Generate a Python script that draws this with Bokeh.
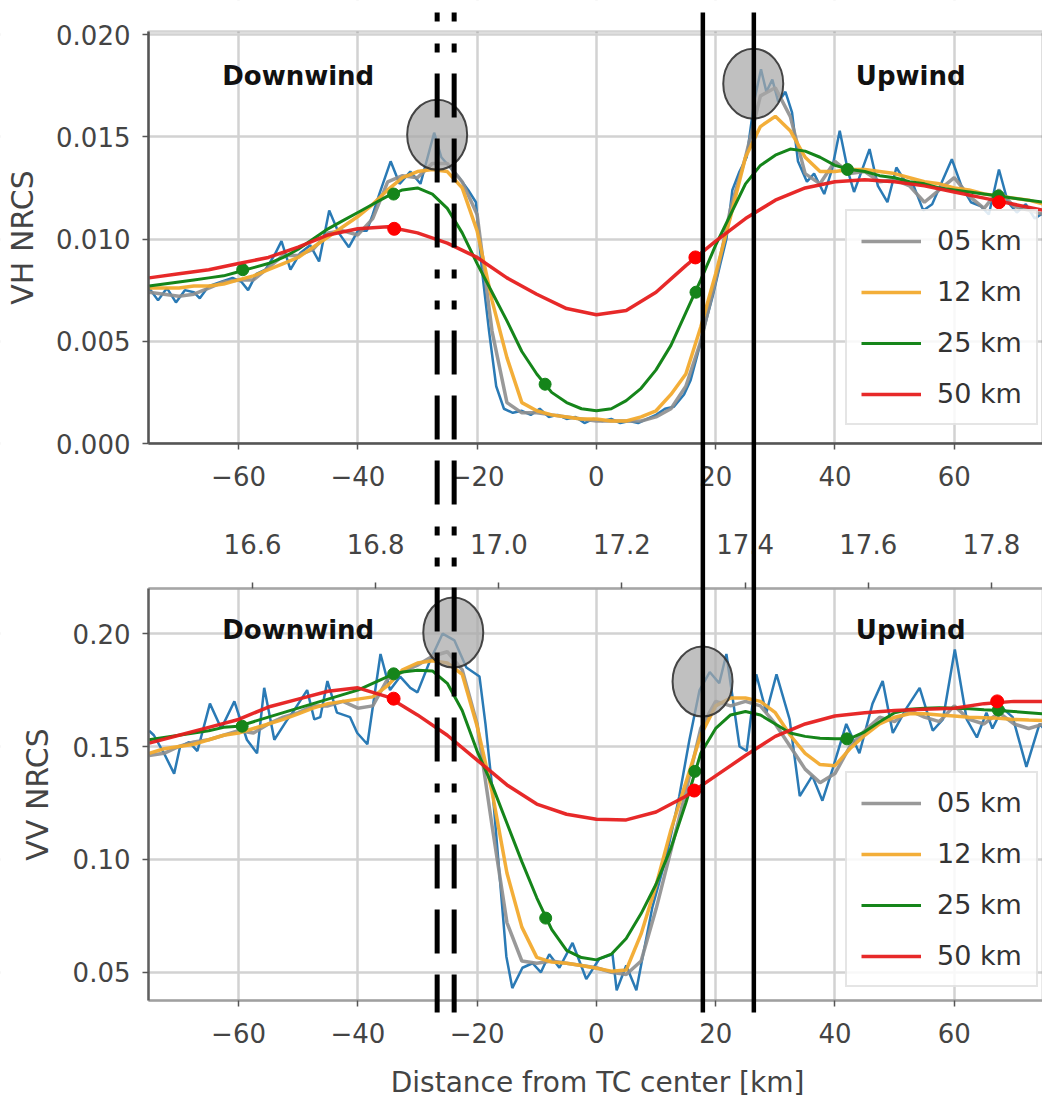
import numpy as np
from math import pi
from bokeh.plotting import figure
from bokeh.models import (Range1d, LinearAxis, FixedTicker, NumeralTickFormatter, CustomJSTickFormatter,
                          Grid, BoxAnnotation, Label, Legend, LegendItem)
from bokeh.embed import file_html
from bokeh.resources import INLINE

FONT = "DejaVu Sans"

# ---------------- data ----------------
km_ticks = [-60, -40, -20, 0, 20, 40, 60]
lat_ticks = [16.6, 16.8, 17.0, 17.2, 17.4, 17.6, 17.8]
vh_ticks = [0.0, 0.005, 0.010, 0.015, 0.020]
vv_ticks = [0.05, 0.10, 0.15, 0.20]
labels = ["05 km", "12 km", "25 km", "50 km"]

x_25 = np.arange(-75.0, 75.01, 2.5)   # smoothed-series grid (km)
x_50 = np.arange(-75.0, 75.01, 5.0)   # 50 km series grid (km)

# --- VH NRCS (top panel)
vh_raw_x = [-75, -73.5, -72, -70.5, -69, -67.5, -66.5, -65, -63, -61,
            -59.5, -58.4, -57, -55.5, -54, -52.8, -51.3, -49.7, -48, -46.5,
            -44.8, -43.2, -41.5, -40, -38.5, -37.5, -36.4, -34.5, -33, -31.2,
            -29.5, -28.3, -27.2, -26, -24.5, -23, -21.5, -20.2, -19.2, -18,
            -16.8, -15.5, -14, -12.5, -11, -9.5, -8, -6.5, -5, -3.5,
            -2, -0.5, 1, 2.5, 4, 5.5, 7, 8.5, 10, 11.5,
            13, 14.7, 15.8, 17, 18.2, 19.5, 20.8, 21.8, 22.8, 24,
            25.2, 26.5, 27.6, 28.5, 29.5, 30.5, 31.7, 32.8, 33.8, 35.3,
            36.5, 38.2, 39.5, 40.8, 42.2, 43.2, 44.2, 45.8, 47.2, 48.8,
            50.3, 51.8, 53.2, 54.8, 56.3, 57.8, 59.6, 61.2, 62.8, 64.5,
            65.8, 67.5, 69, 70.5, 72, 73.5, 75]
vh_raw = [0.0076, 0.0070, 0.0076, 0.0069, 0.0075, 0.0074, 0.0071, 0.0077, 0.0079, 0.0081,
          0.0079, 0.0075, 0.0083, 0.0085, 0.0092, 0.0099, 0.0085, 0.0093, 0.0097, 0.0089,
          0.0114, 0.0103, 0.0096, 0.0104, 0.0104, 0.0112, 0.0122, 0.0138, 0.0127, 0.0133,
          0.0127, 0.0140, 0.0152, 0.0140, 0.0135, 0.0130, 0.0124, 0.0118, 0.0085, 0.0055,
          0.0028, 0.0017, 0.0015, 0.0016, 0.0014, 0.0017, 0.0013, 0.0014, 0.0012, 0.0013,
          0.0010, 0.0012, 0.0011, 0.0012, 0.0010, 0.0011, 0.0010, 0.0012, 0.0014, 0.0017,
          0.0018, 0.0024, 0.0031, 0.0044, 0.0058, 0.0072, 0.0088, 0.0100, 0.0124, 0.0133,
          0.0140, 0.0168, 0.0183, 0.0172, 0.0178, 0.0167, 0.0172, 0.0162, 0.0138, 0.0128,
          0.0132, 0.0122, 0.0134, 0.0153, 0.0133, 0.0123, 0.0131, 0.0144, 0.0126, 0.0118,
          0.0135, 0.0128, 0.0126, 0.0114, 0.0117, 0.0127, 0.0139, 0.0126, 0.0118, 0.0116,
          0.0112, 0.0134, 0.0118, 0.0113, 0.0117, 0.0110, 0.0113]
vh_05 = [0.0074, 0.0073, 0.0072, 0.0073, 0.0076, 0.0079, 0.0080, 0.0080, 0.0086, 0.0092,
         0.0092, 0.0095, 0.0103, 0.0104, 0.0102, 0.0110, 0.0128, 0.0131, 0.0130, 0.0137,
         0.0137, 0.0128, 0.0112, 0.0055, 0.0020, 0.0015, 0.0015, 0.0014, 0.0013, 0.0012,
         0.0011, 0.0011, 0.0011, 0.0011, 0.0013, 0.0017, 0.0028, 0.0050, 0.0080, 0.0115,
         0.0140, 0.0170, 0.0174, 0.0160, 0.0132, 0.0127, 0.0138, 0.0132, 0.0133, 0.0128,
         0.0129, 0.0126, 0.0118, 0.0124, 0.0130, 0.0121, 0.0115, 0.0124, 0.0116, 0.0114,
         0.0112]
vh_12 = [0.0076, 0.0076, 0.0076, 0.0077, 0.0077, 0.0078, 0.0080, 0.0082, 0.0085, 0.0088,
         0.0091, 0.0096, 0.0101, 0.0106, 0.0111, 0.0117, 0.0124, 0.0130, 0.0133, 0.0134,
         0.0133, 0.0125, 0.0104, 0.0070, 0.0042, 0.0020, 0.0016, 0.0014, 0.0013, 0.0012,
         0.0012, 0.0011, 0.0011, 0.0013, 0.0016, 0.0024, 0.0034, 0.0057, 0.0083, 0.0111,
         0.0140, 0.0155, 0.0160, 0.0153, 0.0140, 0.0133, 0.0133, 0.0134, 0.0134, 0.0133,
         0.0132, 0.0130, 0.0128, 0.0127, 0.0125, 0.0124, 0.0122, 0.0121, 0.0120, 0.0119,
         0.0117]
vh_25 = [0.0077, 0.0078, 0.0079, 0.0080, 0.0081, 0.0082, 0.0084, 0.0086, 0.0088, 0.0091,
         0.0095, 0.0100, 0.0105, 0.0109, 0.0113, 0.0117, 0.0121, 0.0124, 0.0125, 0.0122,
         0.0115, 0.0103, 0.0088, 0.0074, 0.0060, 0.0045, 0.0034, 0.0025, 0.0020, 0.0017,
         0.0016, 0.0017, 0.0021, 0.0027, 0.0036, 0.0048, 0.0064, 0.0080, 0.0097, 0.0112,
         0.0127, 0.0136, 0.0141, 0.0144, 0.0143, 0.0140, 0.0136, 0.0134, 0.0133, 0.0131,
         0.0130, 0.0128, 0.0127, 0.0125, 0.0124, 0.0123, 0.0122, 0.0121, 0.0120, 0.0119,
         0.0118]
vh_50 = [0.0081, 0.0083, 0.0085, 0.0088, 0.0091, 0.0096, 0.0102, 0.0105, 0.0106, 0.0103,
         0.0098, 0.0091, 0.0081, 0.0073, 0.0066, 0.0063, 0.0065, 0.0074, 0.0087, 0.0099,
         0.0110, 0.0119, 0.0125, 0.0128, 0.0129, 0.0128, 0.0126, 0.0123, 0.0120, 0.0117,
         0.0114]
vh_m25_x = [-59.3, -34.0, -8.6, 16.7, 42.1, 67.4]
vh_m25 = [0.0085, 0.0122, 0.0029, 0.0074, 0.0134, 0.0121]
vh_m50_x = [-33.9, 16.6, 67.5]
vh_m50 = [0.0105, 0.0091, 0.0118]
vh_circ_x = [-26.7, 26.3]
vh_circ = [0.0151, 0.0176]

# --- VV NRCS (bottom panel)
vv_raw_x = [-75, -74.2, -72.5, -70.8, -69.8, -68.3, -66.9, -64.8, -62.9, -60.7,
            -58.6, -56.9, -55.7, -54, -51.8, -50.7, -48.5, -47.3, -46.3, -45.1,
            -43.5, -41.3, -40.1, -38.4, -36.2, -34.6, -32.9, -31.2, -30, -27.9,
            -25.8, -23.8, -21.8, -19.6, -18.6, -17.4, -16.3, -15.1, -14.1, -12.4,
            -10.7, -9.3, -7.9, -6.2, -4, -1.7, 0.5, 2.7, 3.4, 5,
            6.7, 7.7, 9.4, 11.7, 13.9, 15.6, 17.3, 19, 20.6, 21.8,
            24, 25.2, 26.8, 28.5, 30.2, 32.4, 34.1, 36.2, 37.9, 39.6,
            41.9, 44.1, 46.3, 48, 49.7, 52, 54.2, 56.4, 58.1, 60.1,
            62.1, 63.8, 65.4, 66.4, 68.1, 69.8, 72.1, 74.3, 75]
vv_raw = [0.157, 0.155, 0.147, 0.138, 0.150, 0.152, 0.148, 0.169, 0.158, 0.170,
          0.153, 0.147, 0.176, 0.153, 0.162, 0.166, 0.175, 0.162, 0.163, 0.179,
          0.165, 0.163, 0.156, 0.151, 0.191, 0.175, 0.181, 0.176, 0.174, 0.188,
          0.200, 0.197, 0.185, 0.181, 0.160, 0.130, 0.095, 0.057, 0.043, 0.052,
          0.054, 0.050, 0.058, 0.052, 0.063, 0.047, 0.056, 0.058, 0.042, 0.053,
          0.042, 0.056, 0.079, 0.101, 0.128, 0.153, 0.175, 0.183, 0.178, 0.191,
          0.150, 0.148, 0.182, 0.165, 0.182, 0.162, 0.128, 0.137, 0.126, 0.140,
          0.160, 0.147, 0.169, 0.179, 0.156, 0.167, 0.176, 0.157, 0.162, 0.193,
          0.162, 0.154, 0.165, 0.158, 0.167, 0.163, 0.141, 0.160, 0.158]
vv_05 = [0.146, 0.147, 0.150, 0.152, 0.153, 0.155, 0.157, 0.156, 0.160, 0.163,
         0.165, 0.168, 0.168, 0.170, 0.167, 0.168, 0.180, 0.183, 0.186, 0.190,
         0.192, 0.184, 0.160, 0.115, 0.072, 0.055, 0.054, 0.055, 0.054, 0.053,
         0.052, 0.050, 0.049, 0.055, 0.078, 0.104, 0.130, 0.158, 0.170, 0.168,
         0.170, 0.168, 0.160, 0.150, 0.140, 0.134, 0.138, 0.150, 0.157, 0.163,
         0.161, 0.166, 0.163, 0.161, 0.168, 0.162, 0.160, 0.165, 0.160, 0.158,
         0.160]
vv_12 = [0.147, 0.149, 0.150, 0.151, 0.153, 0.155, 0.156, 0.158, 0.160, 0.162,
         0.1645, 0.167, 0.169, 0.170, 0.171, 0.172, 0.177, 0.184, 0.187, 0.188,
         0.187, 0.182, 0.159, 0.130, 0.094, 0.070, 0.0566, 0.0545, 0.054, 0.053,
         0.0518, 0.0505, 0.051, 0.067, 0.0885, 0.113, 0.134, 0.155, 0.168, 0.1715,
         0.1715, 0.170, 0.165, 0.155, 0.147, 0.142, 0.1415, 0.149, 0.155, 0.160,
         0.163, 0.1645, 0.1645, 0.164, 0.1635, 0.163, 0.1628, 0.1625, 0.162, 0.1617,
         0.1615]
vv_25 = [0.153, 0.154, 0.155, 0.156, 0.157, 0.1585, 0.159, 0.161, 0.163, 0.165,
         0.167, 0.169, 0.171, 0.173, 0.175, 0.178, 0.181, 0.183, 0.1838, 0.1835,
         0.178, 0.166, 0.148, 0.133, 0.116, 0.099, 0.083, 0.069, 0.0597, 0.0565,
         0.0555, 0.058, 0.065, 0.076, 0.089, 0.105, 0.125, 0.147, 0.158, 0.164,
         0.1655, 0.164, 0.160, 0.156, 0.1545, 0.1537, 0.1535, 0.1535, 0.1565, 0.161,
         0.165, 0.1665, 0.167, 0.1672, 0.167, 0.1667, 0.1663, 0.166, 0.1655, 0.165,
         0.1645]
vv_50 = [0.1515, 0.155, 0.1585, 0.162, 0.1675, 0.171, 0.1745, 0.176, 0.172, 0.164,
         0.155, 0.144, 0.133, 0.1245, 0.120, 0.1178, 0.1175, 0.121, 0.128, 0.137,
         0.146, 0.1545, 0.160, 0.1635, 0.165, 0.166, 0.1665, 0.167, 0.169, 0.170,
         0.170]
vv_m25_x = [-59.4, -34.0, -8.5, 16.5, 42.0, 67.4]
vv_m25 = [0.1590, 0.1822, 0.0740, 0.1390, 0.1534, 0.1662]
vv_m50_x = [-34.0, 16.4, 67.2]
vv_m50 = [0.1712, 0.1305, 0.1700]
vv_circ_x = [-24.0, 17.8]
vv_circ = [0.2005, 0.1788]

dashed_x = [-26.7, -23.85]   # dashed vertical markers (km)
solid_x = [17.85, 26.4]      # solid vertical markers (km)

# ---------------- layout (canvas pixels) ----------------
W, H = 1042, 1098
LEFT_PX = 148                # left border of both panels
LINE_TOP, LINE_BOT = 12, 1012  # extent of the vertical reference lines
TOP_PX = (31, 443)      # top panel: pixel y of upper/lower border
BOT_PX = (588, 1000)    # bottom panel
VH_LIM = (0.0, 0.02015)
VV_LIM = (0.0375, 0.2200)
X_LIM = (-75.1, 74.8)
LAT_LIM = (16.431, 17.883)


def y_ext(lim, px):
    k = (lim[1] - lim[0]) / (px[1] - px[0])
    return Range1d(start=lim[0] - (H - px[1]) * k, end=lim[1] + px[0] * k)


def x_ext(lim):
    k = (lim[1] - lim[0]) / (W - LEFT_PX)
    return Range1d(start=lim[0] - LEFT_PX * k, end=lim[1])


p = figure(width=W, height=H, x_range=x_ext(X_LIM), y_range=Range1d(H, 0),
           x_axis_location=None, y_axis_location=None, toolbar_location=None,
           output_backend="svg", title=None,
           min_border_left=0, min_border_right=0, min_border_top=0, min_border_bottom=0,
           outline_line_color=None, background_fill_color="white", border_fill_color="white")
p.xgrid.visible = False
p.ygrid.visible = False
p.extra_y_ranges = {"vh": y_ext(VH_LIM, TOP_PX), "vv": y_ext(VV_LIM, BOT_PX)}
p.extra_x_ranges = {"lat": x_ext(LAT_LIM)}

GRID_C = "#d2d2d2"
p.add_layout(Grid(dimension=0, ticker=FixedTicker(ticks=km_ticks), grid_line_color=GRID_C,
                  grid_line_width=2.5))
p.add_layout(Grid(dimension=1, y_range_name="vh", ticker=FixedTicker(ticks=vh_ticks), bounds=VH_LIM,
                  grid_line_color=GRID_C, grid_line_width=2.5))
p.add_layout(Grid(dimension=1, y_range_name="vv", ticker=FixedTicker(ticks=vv_ticks), bounds=VV_LIM,
                  grid_line_color=GRID_C, grid_line_width=2.5))
# white masks outside the two panels
p.add_layout(BoxAnnotation(right=X_LIM[0], fill_color="white", fill_alpha=1.0,
                           line_color=None, level="underlay"))
for (t, b) in [(0, TOP_PX[0]), (TOP_PX[1], BOT_PX[0]), (BOT_PX[1], H)]:
    p.add_layout(BoxAnnotation(top=t, bottom=b, fill_color="white", fill_alpha=1.0,
                               line_color=None, level="underlay"))
# panel frames
p.add_layout(BoxAnnotation(left=X_LIM[0], right=X_LIM[1], bottom=VH_LIM[0], top=VH_LIM[1],
                           y_range_name="vh", fill_color=None, fill_alpha=0,
                           line_color="#707070", line_width=2.5, level="underlay"))
p.add_layout(BoxAnnotation(left=X_LIM[0], right=X_LIM[1], bottom=VV_LIM[0], top=VV_LIM[1],
                           y_range_name="vv", fill_color=None, fill_alpha=0,
                           line_color="#a6a6a6", line_width=2.5, level="underlay"))

km_fmt = CustomJSTickFormatter(code="return (tick < 0 ? '\u2212' + (-tick) : '' + tick);")


def style(ax, line_color, standoff):
    ax.axis_line_color = line_color
    ax.axis_line_width = 2.5
    ax.major_tick_line_color = "#555555"
    ax.major_tick_line_width = 1.5
    ax.major_tick_out = 6
    ax.major_tick_in = 0
    ax.minor_tick_line_color = None
    ax.major_label_text_font = FONT
    ax.major_label_text_font_size = "26px"
    ax.major_label_text_color = "#444444"
    ax.major_label_standoff = standoff


ax = LinearAxis(y_range_name="vh", fixed_location=X_LIM[0], bounds=VH_LIM,
                ticker=FixedTicker(ticks=vh_ticks), formatter=NumeralTickFormatter(format="0.000"))
style(ax, "#555555", 12)
p.add_layout(ax, "left")
ax = LinearAxis(y_range_name="vv", fixed_location=X_LIM[0], bounds=VV_LIM,
                ticker=FixedTicker(ticks=vv_ticks), formatter=NumeralTickFormatter(format="0.00"))
style(ax, "#606060", 12)
p.add_layout(ax, "left")
ax = LinearAxis(y_range_name="vh", fixed_location=VH_LIM[0], bounds=X_LIM,
                ticker=FixedTicker(ticks=km_ticks), formatter=km_fmt)
style(ax, "#555555", 16)
p.add_layout(ax, "below")
ax = LinearAxis(y_range_name="vv", fixed_location=VV_LIM[0], bounds=X_LIM,
                ticker=FixedTicker(ticks=km_ticks), formatter=km_fmt)
style(ax, "#a0a0a0", 16)
p.add_layout(ax, "below")
ax = LinearAxis(x_range_name="lat", y_range_name="vv", fixed_location=VV_LIM[1], bounds=LAT_LIM,
                ticker=FixedTicker(ticks=lat_ticks), formatter=NumeralTickFormatter(format="0.0"))
style(ax, "#a6a6a6", 29)
p.add_layout(ax, "above")

# ---------------- data glyphs ----------------
C_RAW, C05, C12, C25, C50 = "#2a7ab5", "#8e8e8e", "#f2aa2e", "#15851a", "#e61e1e"


def panel(rng, raw_x, raw, s05, s12, s25, s50, m25x, m25, m50x, m50, cx, cy):
    p.line(raw_x, raw, y_range_name=rng, line_color=C_RAW, line_width=2.5)
    r05 = p.line(x_25, s05, y_range_name=rng, line_color=C05, line_width=3.5, line_alpha=0.9)
    r12 = p.line(x_25, s12, y_range_name=rng, line_color=C12, line_width=3.5, line_alpha=0.95)
    r25 = p.line(x_25, s25, y_range_name=rng, line_color=C25, line_width=3)
    p.scatter(m25x, m25, y_range_name=rng, marker="circle", size=12, fill_color=C25, line_color=C25)
    r50 = p.line(x_50, s50, y_range_name=rng, line_color=C50, line_width=3.5, line_alpha=0.95)
    p.scatter(m50x, m50, y_range_name=rng, marker="circle", size=13, fill_color="#ff0000", line_color="#ff0000")
    p.ellipse(cx, cy, width=60, height=70, width_units="screen", height_units="screen",
              y_range_name=rng, fill_color="#a8a8a8", fill_alpha=0.72,
              line_color="#333333", line_width=2, line_alpha=0.9)
    return [r05, r12, r25, r50]


rs_vh = panel("vh", vh_raw_x, vh_raw, vh_05, vh_12, vh_25, vh_50,
              vh_m25_x, vh_m25, vh_m50_x, vh_m50, vh_circ_x, vh_circ)
rs_vv = panel("vv", vv_raw_x, vv_raw, vv_05, vv_12, vv_25, vv_50,
              vv_m25_x, vv_m25, vv_m50_x, vv_m50, vv_circ_x, vv_circ)

# vertical reference lines across both panels (drawn above the axes)
p.segment(x0=dashed_x, y0=[LINE_TOP] * len(dashed_x), x1=dashed_x, y1=[LINE_BOT] * len(dashed_x),
          line_color="black", line_width=5, line_dash="9 22 9 21 44 21 44 21 44 22", level="overlay")
p.segment(x0=solid_x, y0=[LINE_TOP] * len(solid_x), x1=solid_x, y1=[LINE_BOT] * len(solid_x),
          line_color="black", line_width=4.5, level="overlay")

for rs, bottom_px in [(rs_vh, 425), (rs_vv, 987)]:
    leg = Legend(items=[LegendItem(label=l, renderers=[r]) for l, r in zip(labels, rs)],
                 location=(845, H - bottom_px), label_text_font=FONT, label_text_font_size="27px",
                 label_text_color="#333333", glyph_width=60, glyph_height=30, label_height=30,
                 spacing=20, padding=14, margin=0, label_standoff=16,
                 border_line_color="#cccccc", border_line_width=2,
                 background_fill_color="white", background_fill_alpha=0.85)
    p.add_layout(leg)

# ---------------- texts ----------------
for rng, yv in [("vh", 0.01795), ("vv", 0.2014)]:
    p.add_layout(Label(x=-50.0, y=yv, y_range_name=rng, text="Downwind", text_align="center",
                       text_baseline="alphabetic", text_font=FONT, text_font_size="26px",
                       text_font_style="bold", text_color="#111111"))
    p.add_layout(Label(x=52.7, y=yv, y_range_name=rng, text="Upwind", text_align="center",
                       text_baseline="alphabetic", text_font=FONT, text_font_size="26px",
                       text_font_style="bold", text_color="#111111"))

p.add_layout(Label(x=22, x_units="screen", y=(TOP_PX[0] + TOP_PX[1]) / 2, text="VH NRCS",
                   angle=pi / 2, text_align="center", text_baseline="middle", text_font=FONT,
                   text_font_size="30px", text_color="#444444"))
p.add_layout(Label(x=37, x_units="screen", y=(BOT_PX[0] + BOT_PX[1]) / 2, text="VV NRCS",
                   angle=pi / 2, text_align="center", text_baseline="middle", text_font=FONT,
                   text_font_size="30px", text_color="#444444"))
p.add_layout(Label(x=0.2, y=1082, text="Distance from TC center [km]", text_align="center",
                   text_baseline="middle", text_font=FONT, text_font_size="28px",
                   text_color="#444444"))

with open("out.html", "w", encoding="utf-8") as f:
    f.write(file_html(p, INLINE))
